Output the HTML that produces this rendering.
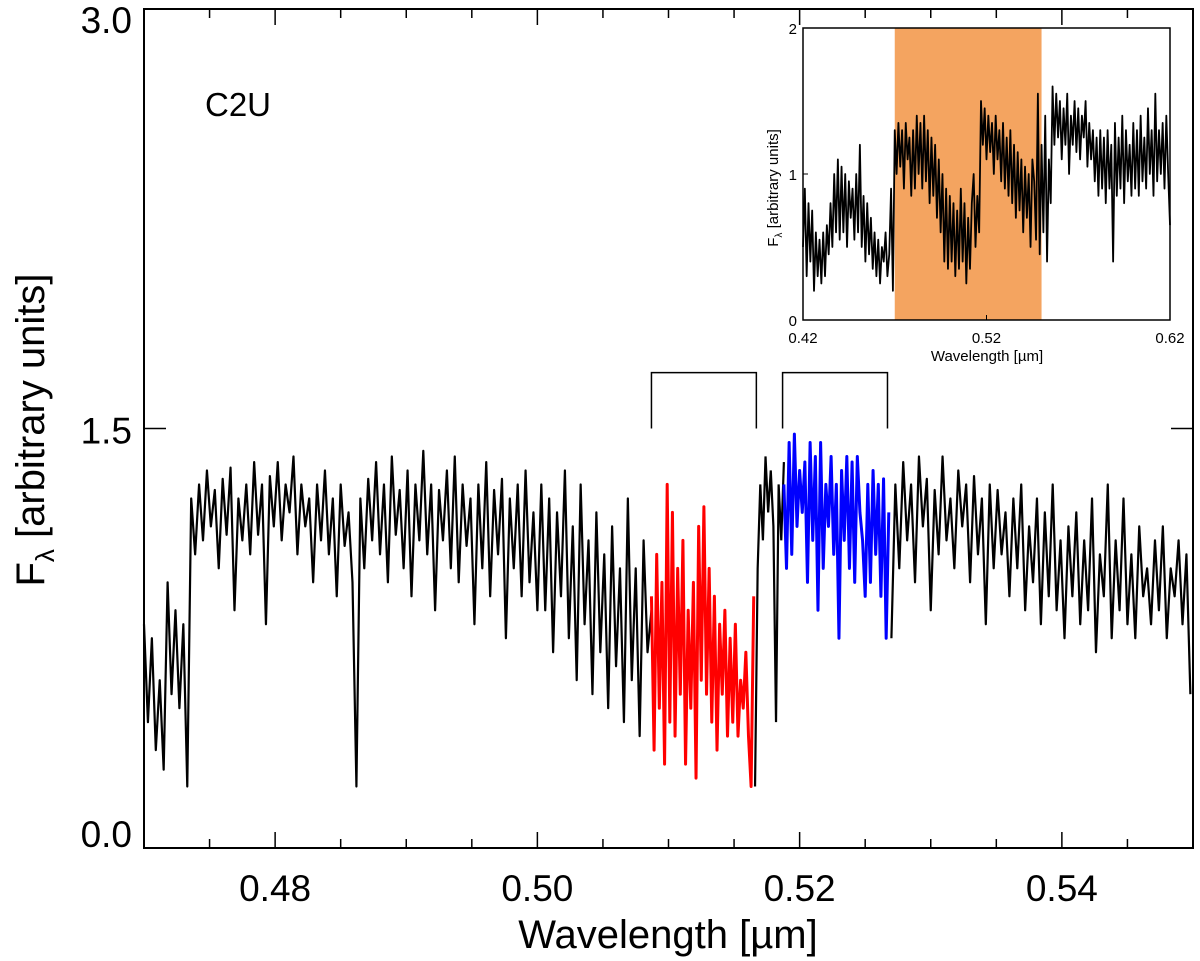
<!DOCTYPE html>
<html><head><meta charset="utf-8"><style>
body{margin:0;background:#fff;}
svg{display:block;font-family:"Liberation Sans",Arial,sans-serif;}
</style></head><body>
<svg id="chart" width="1200" height="961" viewBox="0 0 1200 961" xmlns="http://www.w3.org/2000/svg">
<rect x="0" y="0" width="1200" height="961" fill="#fff"/>
<g id="main"></g>
<g id="inset"></g>
</svg>
<script>
// ---- main spectrum data (wavelength in micron, flux arbitrary) ----
const black1Start = 0.4700, black1Step = 0.0003;
const black1Flux = [0.8,0.45,0.75,0.35,0.6,0.28,0.95,0.55,0.85,0.5,0.8,0.22,
1.25,1.05,1.3,1.1,1.35,1.15,1.28,1.0,1.32,1.12,1.36,0.85,1.25,1.1,1.3,1.05,1.38,1.12,1.3,0.8,1.33,1.15,1.38,1.1,1.3,1.2,1.4,1.05,1.3,1.15,1.25,0.95,1.3,1.1,
1.35,1.05,1.25,0.9,1.3,1.08,1.2,0.95,
0.22,
1.25,1.0,1.32,1.1,1.38,1.05,1.3,0.95,1.4,1.12,1.28,1.0,1.35,0.9,1.3,1.1,1.42,1.05,1.3,0.85,1.28,1.1,1.35,1.0,1.4,0.95,1.3,1.08,1.25,0.8,1.3,1.0,1.38,0.9,1.28,1.05,1.32,0.75,1.25,1.0,1.3,0.9,1.35,0.95,1.2,0.85,
1.3,0.85,1.25,0.7,1.2,0.9,1.35,0.75,1.15,0.6,1.3,0.8,1.1,0.55,1.2,0.7,1.05,0.5,1.15,0.65,1.0,0.45,1.25,0.6,1.0,0.4,1.1,0.7,0.85];
const redStart = 0.5087, redStep = 0.0002;
const redFlux = [0.9,0.35,1.05,0.5,0.95,0.3,1.3,0.45,1.2,0.4,1.0,0.55,1.1,0.3,0.85,0.5,0.95,0.25,1.15,0.6,1.22,0.55,1.0,0.45,0.9,0.35,0.8,0.55,0.85,0.4,0.75,0.45,0.8,0.4,0.6,0.5,0.7,0.4,0.22,0.9];
const black2Start = 0.5166, black2Step = 0.0002;
const black2Flux = [0.22,1.0,1.3,1.1,1.4,1.2,1.35,1.15,0.45,1.3,1.1,1.38];
const blueStart = 0.5188, blueStep = 0.0002;
const blueFlux = [1.3,1.0,1.45,1.05,1.48,1.15,1.35,1.2,1.38,0.95,1.45,1.1,1.4,0.85,1.45,1.0,1.3,1.15,1.4,1.05,1.3,0.75,1.35,1.1,1.4,1.0,1.38,0.95,1.4,1.2,1.1,0.9,1.3,0.95,1.35,1.05,1.3,0.9,1.32,0.75,1.2];
const black3Start = 0.5270, black3Step = 0.0003;
const black3Flux = [0.75,1.3,1.0,1.38,1.1,1.3,0.95,1.4,1.15,1.32,0.85,1.28,1.05,1.4,1.1,1.25,1.0,1.35,1.15,1.3,0.95,1.33,1.05,1.25,0.8,1.3,1.0,
1.28,1.05,1.2,0.9,1.25,1.0,1.3,0.85,1.15,0.95,1.25,0.8,1.2,0.9,1.3,0.85,1.1,0.75,1.15,0.9,1.2,0.8,1.1,0.85,1.25,0.7,1.05,0.9,1.3,0.75,1.1,0.85,1.25,0.8,1.05,0.75,1.15,0.9,1.0,0.8,1.1,0.85,1.15,0.75,1.0,0.9,1.1,0.8,1.05,0.55];
const mainXTicks = [0.48,0.50,0.52,0.54];
const mainXTickLabels = ["0.48","0.50","0.52","0.54"];
const mainYTicks = [0.0,1.5,3.0];
const mainYTickLabels = ["0.0","1.5","3.0"];
const bracketRanges = [[0.5087,0.5167],[0.5187,0.5267]];
const bracketBase = 1.5, bracketTop = 1.7;

// ---- inset data ----
const insetStart = 0.42, insetStep = 0.001;
const insetFlux = [0.5,0.9,0.3,0.8,0.4,0.75,0.2,0.6,0.3,0.55,0.25,
0.6,0.3,0.65,0.45,0.8,0.5,1.0,0.6,1.1,0.55,
1.05,0.6,1.0,0.5,0.95,0.7,0.9,0.55,1.0,0.6,1.2,0.5,0.85,0.4,0.8,
0.45,0.7,0.35,0.6,0.3,0.55,0.25,0.5,0.4,0.6,0.3,0.45,0.9,0.2,
1.3,1.0,1.35,1.05,1.3,0.9,1.35,1.1,1.25,0.85,1.3,0.9,1.4,1.0,1.35,
0.9,1.4,0.95,1.3,0.8,1.25,0.85,1.2,0.7,1.1,0.6,1.0,0.4,0.9,0.35,
0.85,0.4,0.8,0.3,0.75,0.35,0.9,0.4,0.8,0.25,0.7,0.35,0.8,1.0,0.5,0.85,0.6,
1.5,1.2,1.45,1.1,1.4,1.15,1.35,1.0,1.4,1.1,1.3,0.95,1.35,0.9,1.25,0.85,
1.3,0.8,1.2,0.7,1.15,0.75,1.1,0.6,1.05,0.7,1.0,0.5,1.1,
0.95,0.55,1.55,0.45,1.2,0.6,1.4,0.4,1.1,0.8,
1.6,1.2,1.55,1.25,1.5,1.1,1.45,1.2,1.55,1.0,1.4,1.2,1.5,1.15,1.45,1.1,1.4,1.25,1.5,1.05,1.35,1.1,1.3,0.95,1.25,
0.85,1.3,0.9,1.25,0.8,1.3,0.9,1.2,0.4,1.35,0.85,1.25,0.9,1.4,0.8,1.3,0.95,1.2,0.85,1.35,
0.9,1.3,0.85,1.4,0.95,1.25,0.9,1.45,1.0,1.3,0.85,1.55,0.95,1.3,1.0,1.35,0.9,1.4,1.0,0.65];
const insetBand = [0.470,0.550];
const insetXTicks = [0.42,0.52,0.62];
const insetXTickLabels = ["0.42","0.52","0.62"];
const insetYTicks = [0,1,2];
const insetYTickLabels = ["0","1","2"];

const NS = "http://www.w3.org/2000/svg";
function mk(tag, attrs, parent){
  const e = document.createElementNS(NS, tag);
  for (const k in attrs) e.setAttribute(k, attrs[k]);
  parent.appendChild(e); return e;
}
const M = {l:144, r:1193, t:9, b:848, x0:0.47, x1:0.55, y0:0, y1:3};
const mx = w => M.l + (w - M.x0) / (M.x1 - M.x0) * (M.r - M.l);
const my = v => M.b - (v - M.y0) / (M.y1 - M.y0) * (M.b - M.t);
const gm = document.getElementById('main');

function seriesPath(start, step, arr, xf, yf){
  return arr.map((v,i)=> (i?'L':'M') + xf(start + i*step).toFixed(2) + ',' + yf(v).toFixed(2)).join('');
}
let p;
p = mk('path',{d:seriesPath(black1Start,black1Step,black1Flux,mx,my),fill:'none',stroke:'#000','stroke-width':2.2,'stroke-linejoin':'round'},gm);


p = mk('path',{d:seriesPath(black2Start,black2Step,black2Flux,mx,my),fill:'none',stroke:'#000','stroke-width':2.2},gm);


p = mk('path',{d:seriesPath(black3Start,black3Step,black3Flux,mx,my),fill:'none',stroke:'#000','stroke-width':2.2,'stroke-linejoin':'round'},gm);


p = mk('path',{d:seriesPath(redStart,redStep,redFlux,mx,my),fill:'none',stroke:'#f00','stroke-width':3,'stroke-linejoin':'round'},gm);


p = mk('path',{d:seriesPath(blueStart,blueStep,blueFlux,mx,my),fill:'none',stroke:'#00f','stroke-width':3,'stroke-linejoin':'round'},gm);



bracketRanges.forEach((r,i)=>{
  const b = mk('path',{d:`M${mx(r[0])},${my(bracketBase)}V${my(bracketTop)}H${mx(r[1])}V${my(bracketBase)}`,fill:'none',stroke:'#000','stroke-width':1.5},gm);
  
  
});

const fr = mk('rect',{x:M.l,y:M.t,width:M.r-M.l,height:M.b-M.t,fill:'none',stroke:'#000','stroke-width':2},gm);


for (let k=0;k<=16;k++){
  const w = M.x0 + k*0.005;
  const major = (k % 4) === 2;
  const len = major ? 16 : 9;
  const x = mx(w);
  mk('line',{x1:x,y1:M.b,x2:x,y2:M.b-len,stroke:'#000','stroke-width':1.5},gm);
  mk('line',{x1:x,y1:M.t,x2:x,y2:M.t+len,stroke:'#000','stroke-width':1.5},gm);
}
mainXTicks.forEach((w,i)=>{
  const t = mk('text',{x:mx(w),y:901,'text-anchor':'middle','font-size':37},gm);
  t.textContent = mainXTickLabels[i];
  
  
});
const yLabelShift = [-1, 15, 24];
mainYTicks.forEach((v,i)=>{
  const y = my(v);
  mk('line',{x1:M.l,y1:y,x2:M.l+22,y2:y,stroke:'#000','stroke-width':1.5},gm);
  mk('line',{x1:M.r,y1:y,x2:M.r-22,y2:y,stroke:'#000','stroke-width':1.5},gm);
  const t = mk('text',{x:132,y:y+yLabelShift[i],'text-anchor':'end','font-size':37},gm);
  t.textContent = mainYTickLabels[i];
  
  
});
let t = mk('text',{x:668,y:948,'text-anchor':'middle','font-size':40},gm);
t.textContent = 'Wavelength [\u00b5m]';


t = mk('text',{x:0,y:0,'text-anchor':'middle','font-size':40,transform:'translate(44,430) rotate(-90)'},gm);
t.innerHTML = 'F<tspan font-size="26" dy="10">\u03bb</tspan><tspan dy="-10"> [arbitrary units]</tspan>';


t = mk('text',{x:205,y:116,'font-size':33},gm);
t.textContent = 'C2U';



const I = {l:803, r:1170, t:28, b:320, x0:0.42, x1:0.62, y0:0, y1:2};
const ix = w => I.l + (w - I.x0)/(I.x1-I.x0)*(I.r-I.l);
const iy = v => I.b - (v - I.y0)/(I.y1-I.y0)*(I.b-I.t);
const gi = document.getElementById('inset');


const band = mk('rect',{x:ix(insetBand[0]),y:I.t,width:ix(insetBand[1])-ix(insetBand[0]),height:I.b-I.t,fill:'#f4a460'},gi);


p = mk('path',{d:seriesPath(insetStart,insetStep,insetFlux,ix,iy),fill:'none',stroke:'#000','stroke-width':1.8,'stroke-linejoin':'round'},gi);


const ifr = mk('rect',{x:I.l,y:I.t,width:I.r-I.l,height:I.b-I.t,fill:'none',stroke:'#000','stroke-width':1.5},gi);


insetXTicks.forEach((w,i)=>{
  mk('line',{x1:ix(w),y1:I.b,x2:ix(w),y2:I.b-5,stroke:'#000','stroke-width':1},gi);
  const tt = mk('text',{x:ix(w),y:343,'text-anchor':'middle','font-size':15},gi);
  tt.textContent = insetXTickLabels[i];
  
  
});
insetYTicks.forEach((v,i)=>{
  mk('line',{x1:I.l,y1:iy(v),x2:I.l+5,y2:iy(v),stroke:'#000','stroke-width':1},gi);
  const tt = mk('text',{x:797,y:iy(v)+6,'text-anchor':'end','font-size':15},gi);
  tt.textContent = insetYTickLabels[i];
  
  
});
t = mk('text',{x:987,y:361,'text-anchor':'middle','font-size':15},gi);
t.textContent = 'Wavelength [\u00b5m]';


t = mk('text',{x:0,y:0,'text-anchor':'middle','font-size':15,transform:'translate(778,188) rotate(-90)'},gi);
t.innerHTML = 'F<tspan font-size="10" dy="4">\u03bb</tspan><tspan dy="-4"> [arbitrary units]</tspan>';


</script>
</body></html>
